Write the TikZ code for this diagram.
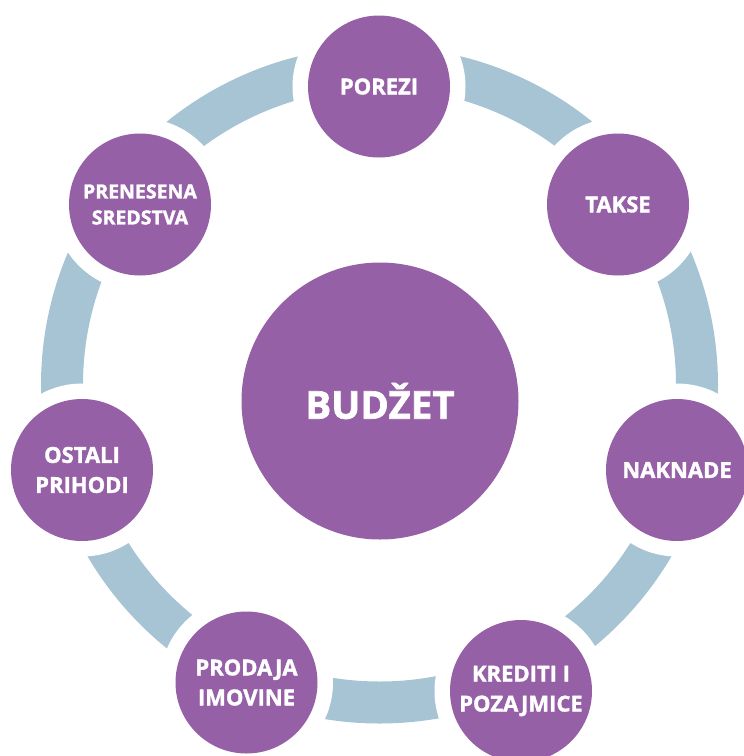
\documentclass[tikz,border=0pt]{standalone}
\usepackage{fontspec}
\setmainfont{Open Sans}[BoldFeatures={FakeBold=1.6}]
\definecolor{bubcol}{RGB}{150,96,167}
\definecolor{ringcol}{RGB}{166,196,212}
\tikzset{
  bub/.style={circle, fill=bubcol, inner sep=0pt, minimum size=142pt,
    text=white, align=center, font=\bfseries\fontsize{22}{30}\selectfont,
    preaction={draw=white, line width=31pt}},
  hub/.style={circle, fill=bubcol, inner sep=0pt, minimum size=277pt,
    text=white, font=\bfseries\fontsize{38.5}{40}\selectfont}
}
\begin{document}
\begin{tikzpicture}[x=1pt,y=-1pt]
\useasboundingbox (0,0) rectangle (744,756);
\clip (0,0) rectangle (744,756);
\coordinate (rc) at (379.5,385);
\draw[ringcol, line width=42pt] (rc) circle (317.5pt);
\node[hub] (budzet) at (380,401) {BUDŽET};
\node[bub] (porezi) at (379,86.5) {POREZI};
\node[bub] (takse) at (618,204.5) {TAKSE};
\node[bub] (naknade) at (677,470) {NAKNADE};
\node[bub] (krediti) at (521,691) {KREDITI I\\POZAJMICE};
\node[bub] (prodaja) at (246.5,682.5) {PRODAJA\\IMOVINE};
\node[bub] (ostali) at (82,470) {OSTALI\\PRIHODI};
\node[bub, font=\bfseries\fontsize{19.5}{26}\selectfont] (prenesena) at (140,204.5) {PRENESENA\\SREDSTVA};
\end{tikzpicture}
\end{document}
